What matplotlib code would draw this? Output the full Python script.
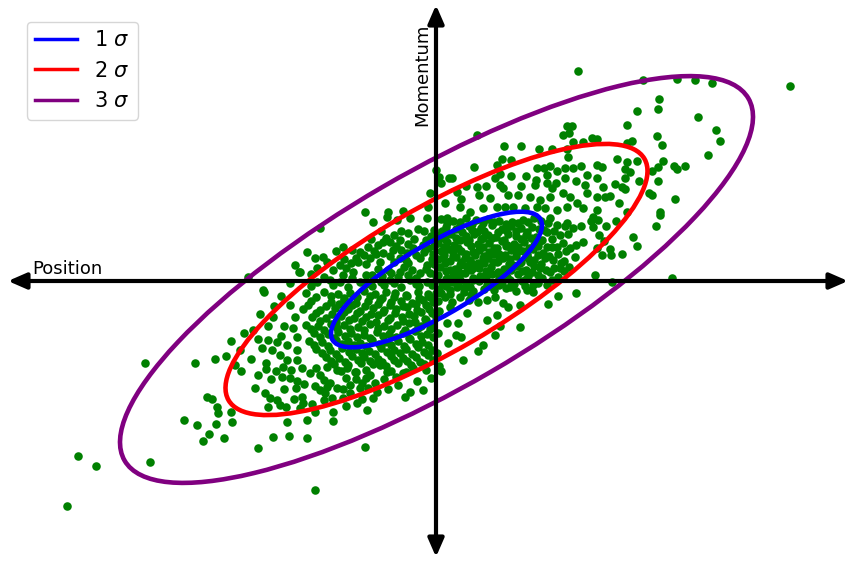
import numpy as np
import matplotlib
matplotlib.use("Agg")
import matplotlib.pyplot as plt
from matplotlib.patches import Ellipse
from matplotlib.lines import Line2D

# ---- samples (position, momentum) ----
upper_pts = [
    (1.42, 2.10), (3.54, 1.95), (2.07, 2.01), (2.41, 2.02), (2.59, 2.01), (2.76, 1.98),
    (2.23, 1.82), (2.22, 1.72), (2.01, 1.70), (2.62, 1.64), (1.91, 1.56), (2.80, 1.51),
    (2.84, 1.40), (1.96, 1.40), (1.91, 1.38), (2.21, 1.45), (2.26, 1.36), (2.72, 1.26),
    (1.81, 1.22), (1.91, 1.19), (2.01, 1.20), (2.27, 1.20), (2.22, 1.14), (2.38, 1.15),
    (2.41, 1.12), (2.49, 1.15), (2.16, 1.10), (1.89, 1.12), (1.94, 1.09), (1.89, 1.03),
    (2.03, 1.00), (2.22, 1.00), (1.79, 0.97), (1.86, 0.94), (1.89, 0.92), (1.74, 0.85),
    (2.13, 0.88), (2.16, 0.86), (2.39, 0.82), (1.83, 0.78), (2.24, 0.69), (1.91, 0.69),
    (0.41, 1.46), (1.31, 1.55), (1.36, 1.55), (1.27, 1.46), (1.33, 1.48), (1.37, 1.39),
    (1.47, 1.39), (1.56, 1.43), (1.61, 1.42), (0.68, 1.35), (0.85, 1.35), (1.03, 1.32),
    (1.16, 1.32), (1.31, 1.32), (1.32, 1.24), (0.66, 1.22), (0.75, 1.21), (0.61, 1.16),
    (0.38, 1.14), (1.01, 1.13), (1.08, 1.13), (1.14, 1.15), (1.21, 1.10), (1.29, 1.13),
    (1.37, 1.13), (1.45, 1.15), (1.61, 1.16), (1.66, 1.14), (1.51, 1.06), (1.61, 1.03),
    (0.64, 1.07), (0.75, 1.05), (0.16, 1.03), (1.00, 1.01), (1.11, 1.06), (1.29, 1.03),
    (0.41, 0.94), (0.59, 1.03), (0.64, 0.96), (0.67, 0.93), (0.99, 0.96), (1.11, 0.98),
    (1.16, 0.93), (1.49, 0.96), (1.67, 0.94), (0.43, 0.86), (0.54, 0.83), (0.72, 0.86),
    (0.82, 0.86), (0.94, 0.84), (1.04, 0.81), (1.14, 0.84), (1.27, 0.88), (1.34, 0.84),
    (1.41, 0.78), (1.51, 0.88), (1.61, 0.84), (1.69, 0.84), (0.21, 0.89), (0.24, 0.74),
    (0.34, 0.69), (0.47, 0.73), (0.61, 0.74), (0.69, 0.74), (0.77, 0.74), (0.89, 0.73),
    (1.01, 0.74), (1.09, 0.73), (1.21, 0.71), (1.31, 0.74), (1.47, 0.73), (1.61, 0.71),
    (0.00, 1.11), (0.03, 1.04), (0.05, 0.98), (0.13, 1.03), (-0.06, 0.88), (0.09, 0.78),
    (-0.08, 0.74), (-0.71, 0.69), (-0.48, 0.69), (-0.33, 0.70), (-1.16, 0.53),
    (0.25, 0.82), (0.30, 0.95), (0.50, 0.95), (0.85, 0.95), (0.90, 1.05), (1.20, 0.98),
    (1.40, 1.00), (1.55, 0.60), (1.45, 0.55), (1.70, 0.55), (1.80, 0.60), (1.68, 0.40),
]

mid_pts = [
    (-0.63, 0.59), (-0.49, 0.64), (-0.39, 0.61), (-0.26, 0.63), (-0.09, 0.63), (-0.18, 0.52),
    (-0.28, 0.48), (-0.36, 0.41), (-0.46, 0.39), (-0.53, 0.39), (-0.68, 0.34), (-0.76, 0.29),
    (-0.93, 0.34), (-1.29, 0.29), (-1.21, 0.23), (-1.13, 0.24), (-1.09, 0.19), (-1.19, 0.13),
    (-1.03, 0.11), (-0.96, 0.16), (-0.93, 0.06), (-0.83, 0.09), (-0.78, 0.19), (-0.66, 0.23),
    (-0.64, 0.06), (-0.56, 0.19), (-0.53, 0.28), (-0.43, 0.31), (-0.36, 0.23), (-0.29, 0.28),
    (-0.23, 0.33), (-0.16, 0.23), (-0.08, 0.33), (-0.09, 0.16), (-0.48, 0.11), (-0.36, 0.09),
    (-0.24, 0.11), (-0.16, 0.08), (-0.06, 0.08), (-1.36, 0.09), (-1.06, 0.01), (-1.19, -0.01),
    (-0.96, -0.01), (-0.76, -0.01), (-0.46, 0.01), (-0.26, 0.01), (-0.09, -0.01),
    (-1.41, 0.16), (-1.37, 0.09), (-1.88, 0.04), (-1.73, -0.09),
    (0.11, 0.63), (0.24, 0.56), (0.76, 0.59), (0.87, 0.61), (1.14, 0.63), (1.21, 0.56),
    (1.31, 0.58), (1.37, 0.53), (1.11, 0.49), (1.24, 0.46), (1.11, 0.34), (1.21, 0.34),
    (1.34, 0.33), (1.39, 0.24), (1.17, 0.21), (0.92, 0.23), (0.81, 0.29), (0.71, 0.36),
    (0.61, 0.33), (0.47, 0.43), (0.41, 0.49), (0.24, 0.41), (0.11, 0.39), (0.07, 0.23),
    (0.17, 0.29), (0.29, 0.23), (0.37, 0.29), (0.47, 0.23), (0.57, 0.19), (0.67, 0.23),
    (0.77, 0.16), (0.37, 0.13), (0.24, 0.16), (0.14, 0.11), (0.11, 0.03), (0.24, 0.01),
    (0.37, 0.03), (0.51, 0.08), (0.64, 0.06), (1.04, 0.13), (1.14, 0.09), (1.24, 0.13),
    (0.97, -0.04), (1.11, -0.04), (0.51, -0.04), (0.21, -0.06),
    (1.57, 0.64), (1.62, 0.61), (1.57, 0.54), (1.63, 0.46), (1.47, 0.39), (1.97, 0.44),
    (2.01, 0.35), (2.20, 0.55), (2.24, 0.66), (1.61, 0.33), (1.66, 0.26), (1.74, 0.32),
    (1.75, 0.26), (1.86, 0.27), (1.59, 0.06), (1.76, -0.01), (2.36, 0.03),
    (-0.55, 0.50), (-0.35, 0.50), (-0.12, 0.50), (-0.02, 0.51),
    (-0.65, 0.42), (-0.50, 0.43), (-0.22, 0.42), (-0.10, 0.41),
    (-1.00, 0.30), (-0.84, 0.31), (-0.62, 0.30), (-0.35, 0.31), (-0.12, 0.29),
    (-0.92, 0.22), (-0.80, 0.23), (-0.30, 0.21), (-0.04, 0.22),
    (-0.90, 0.13), (-0.58, 0.12), (-0.32, 0.14), (-0.10, 0.12),
    (-1.25, 0.07), (-0.70, 0.06), (-0.45, 0.08), (-0.28, 0.06),
    (-1.46, -0.02), (-0.70, -0.03), (-0.55, -0.01), (-0.42, -0.02), (-0.20, -0.03),
]

core_pts = [
    (0.05, 0.62), (0.17, 0.60), (0.30, 0.63), (0.40, 0.61), (0.52, 0.62), (0.63, 0.60),
    (0.98, 0.63), (1.05, 0.60),
    (0.10, 0.54), (0.20, 0.52), (0.33, 0.55), (0.45, 0.53), (0.56, 0.56), (0.66, 0.52),
    (0.75, 0.55), (0.85, 0.53), (0.96, 0.54), (1.03, 0.52), (1.29, 0.55),
    (0.04, 0.46), (0.15, 0.47), (0.30, 0.45), (0.38, 0.47), (0.52, 0.46), (0.60, 0.44),
    (0.72, 0.47), (0.80, 0.45), (0.90, 0.46), (1.00, 0.44), (1.32, 0.47),
    (0.02, 0.38), (0.18, 0.36), (0.31, 0.39), (0.42, 0.37), (0.53, 0.38), (0.66, 0.40),
    (0.78, 0.37), (0.88, 0.39), (0.98, 0.36), (1.04, 0.40), (1.27, 0.38), (1.40, 0.36),
    (0.05, 0.30), (0.12, 0.32), (0.25, 0.30), (0.43, 0.31), (0.53, 0.29), (0.63, 0.27),
    (0.75, 0.31), (0.87, 0.30), (0.97, 0.32), (1.07, 0.28), (1.30, 0.30),
    (0.02, 0.22), (0.14, 0.20), (0.20, 0.24), (0.34, 0.21), (0.42, 0.18), (0.52, 0.23),
    (0.62, 0.20), (0.74, 0.22), (0.85, 0.19), (0.98, 0.21), (1.09, 0.23), (1.28, 0.20),
    (0.04, 0.14), (0.19, 0.12), (0.30, 0.15), (0.43, 0.13), (0.55, 0.14), (0.68, 0.12),
    (0.80, 0.15), (0.90, 0.11), (0.98, 0.15), (1.18, 0.13), (1.33, 0.14),
    (0.02, 0.06), (0.17, 0.05), (0.29, 0.08), (0.44, 0.05), (0.56, 0.07), (0.71, 0.04),
    (0.82, 0.07), (0.92, 0.05), (1.02, 0.06), (1.22, 0.04),
    (0.06, -0.02), (0.16, -0.01), (0.30, -0.03), (0.43, 0.00), (0.57, -0.02), (0.66, -0.01),
    (0.78, -0.03), (0.86, 0.00), (1.02, -0.02),
    (0.03, -0.08), (0.14, -0.09), (0.28, -0.07), (0.37, -0.10), (0.48, -0.08), (0.58, -0.09),
    (0.70, -0.07), (0.80, -0.10),
    (0.05, -0.12), (0.14, -0.13), (0.28, -0.11), (0.35, -0.14), (0.02, -0.20), (0.16, -0.21),
    (0.33, -0.19),
    (0.11, 0.58), (0.24, 0.59), (0.36, 0.57), (0.47, 0.58), (0.58, 0.59), (0.70, 0.57),
    (0.82, 0.58), (0.92, 0.59), (1.12, 0.58),
    (0.06, 0.50), (0.26, 0.49), (0.36, 0.51), (0.48, 0.50), (0.62, 0.49), (0.70, 0.51),
    (0.80, 0.50), (0.91, 0.49), (1.08, 0.51), (1.18, 0.50),
    (0.09, 0.42), (0.20, 0.43), (0.33, 0.41), (0.45, 0.42), (0.56, 0.43), (0.68, 0.41),
    (0.85, 0.42), (0.95, 0.43), (1.06, 0.41), (1.16, 0.42),
    (0.08, 0.34), (0.22, 0.33), (0.35, 0.35), (0.47, 0.34), (0.58, 0.33), (0.70, 0.35),
    (0.82, 0.34), (0.93, 0.33), (1.02, 0.35), (1.16, 0.34),
    (0.08, 0.26), (0.17, 0.25), (0.30, 0.27), (0.39, 0.26), (0.48, 0.25), (0.58, 0.27),
    (0.69, 0.26), (0.80, 0.25), (0.91, 0.27), (1.02, 0.26), (1.13, 0.25), (1.22, 0.27),
    (0.09, 0.18), (0.25, 0.19), (0.37, 0.17), (0.48, 0.18), (0.61, 0.19), (0.73, 0.17),
    (0.84, 0.18), (0.94, 0.19), (1.05, 0.17), (1.25, 0.18),
    (0.10, 0.10), (0.23, 0.09), (0.35, 0.11), (0.50, 0.10), (0.62, 0.09), (0.75, 0.11),
    (0.86, 0.10), (0.96, 0.09), (1.10, 0.11), (1.28, 0.10),
    (0.10, 0.02), (0.23, 0.03), (0.37, 0.01), (0.50, 0.02), (0.63, 0.03), (0.74, 0.01),
    (0.90, 0.02), (1.06, 0.03), (1.16, 0.01),
    (0.10, -0.05), (0.22, -0.04), (0.34, -0.06), (0.53, -0.05), (0.63, -0.04), (0.74, -0.06),
    (0.89, -0.05),
    (-0.05, 0.45), (0.02, 0.43), (-0.42, 0.46),
    (-0.58, 0.36), (-0.40, 0.35), (-0.28, 0.37), (-0.13, 0.36), (-0.02, 0.35),
    (-0.72, 0.26), (-0.60, 0.27), (-0.46, 0.25), (-0.20, 0.26), (-0.03, 0.27),
    (-0.85, 0.18), (-0.70, 0.17), (-0.42, 0.19), (-0.28, 0.18), (-0.02, 0.17),
    (-1.12, 0.04), (-0.84, 0.03), (-0.54, 0.05), (-0.38, 0.04), (-0.20, 0.03), (0.00, 0.05),
    (-1.25, -0.05), (-1.03, -0.04), (-0.88, -0.06), (-0.64, -0.05), (-0.52, -0.04),
    (-0.35, -0.06), (-0.17, -0.05), (-0.04, -0.04),
    (-1.30, -0.12), (-1.12, -0.11), (-0.98, -0.13), (-0.86, -0.12), (-0.72, -0.10),
    (-0.61, -0.13), (-0.50, -0.11), (-0.41, -0.12), (-0.30, -0.14), (-0.18, -0.11),
    (-0.08, -0.13), (0.00, -0.12),
    (-1.25, -0.20), (-1.05, -0.21), (-0.92, -0.19), (-0.80, -0.22), (-0.68, -0.20),
    (-0.56, -0.19), (-0.45, -0.21), (-0.35, -0.20), (-0.24, -0.22), (-0.13, -0.19),
    (-0.03, -0.21),
    (-1.33, -0.28), (-1.16, -0.29), (-1.01, -0.27), (-0.88, -0.28), (-0.76, -0.30),
    (-0.63, -0.27), (-0.52, -0.29), (-0.40, -0.28), (-0.29, -0.26), (-0.19, -0.29),
    (-0.07, -0.28), (0.03, -0.30),
    (-1.24, -0.36), (-1.10, -0.37), (-0.95, -0.35), (-0.82, -0.37), (-0.70, -0.36),
    (-0.58, -0.34), (-0.46, -0.37), (-0.34, -0.36), (-0.22, -0.35), (-0.11, -0.38),
    (0.00, -0.36),
    (-1.30, -0.44), (-1.18, -0.45), (-1.05, -0.43), (-0.92, -0.44), (-0.78, -0.46),
    (-0.66, -0.43), (-0.52, -0.45), (-0.39, -0.44), (-0.27, -0.42), (-0.15, -0.45),
    (-0.05, -0.44),
    (-1.22, -0.52), (-1.08, -0.53), (-0.98, -0.51), (-0.85, -0.52), (-0.72, -0.54),
    (-0.59, -0.51), (-0.47, -0.53), (-0.33, -0.52), (-0.21, -0.50), (-0.09, -0.53),
    (0.02, -0.52),
    (-1.27, -0.60), (-1.14, -0.61), (-1.00, -0.59), (-0.88, -0.60), (-0.76, -0.62),
    (-0.64, -0.59), (-0.51, -0.61), (-0.38, -0.60), (-0.26, -0.58), (-0.14, -0.61),
    (-1.20, -0.68), (-1.06, -0.69), (-0.94, -0.67), (-0.80, -0.68), (-0.67, -0.70),
    (-0.55, -0.67), (-0.42, -0.69), (-0.30, -0.68), (-0.18, -0.66), (-0.04, -0.69),
    (-1.10, -0.76), (-0.97, -0.77), (-0.84, -0.75), (-0.72, -0.76), (-0.58, -0.78),
    (-0.45, -0.75), (-0.33, -0.77), (-0.20, -0.76), (-0.08, -0.74),
    (-1.02, -0.83), (-0.88, -0.84), (-0.75, -0.82), (-0.63, -0.83), (-0.50, -0.85),
    (-0.38, -0.82), (-0.25, -0.84), (-0.12, -0.83), (0.03, -0.85),
    (-1.20, -0.16), (-1.05, -0.15), (-0.92, -0.17), (-0.79, -0.16), (-0.66, -0.15),
    (-0.54, -0.17), (-0.42, -0.16), (-0.29, -0.15), (-0.17, -0.17), (-0.06, -0.16),
    (-1.28, -0.24), (-1.10, -0.25), (-0.97, -0.23), (-0.84, -0.24), (-0.71, -0.25),
    (-0.58, -0.23), (-0.46, -0.24), (-0.33, -0.25), (-0.20, -0.23), (-0.10, -0.24),
    (-1.20, -0.32), (-1.04, -0.33), (-0.92, -0.31), (-0.79, -0.32), (-0.65, -0.33),
    (-0.53, -0.31), (-0.41, -0.32), (-0.27, -0.33), (-0.15, -0.31), (-0.04, -0.32),
    (-1.16, -0.40), (-1.00, -0.41), (-0.87, -0.39), (-0.74, -0.40), (-0.60, -0.41),
    (-0.48, -0.39), (-0.33, -0.40), (-0.21, -0.41), (-0.10, -0.39),
    (-1.25, -0.48), (-1.12, -0.49), (-0.99, -0.47), (-0.86, -0.48), (-0.72, -0.49),
    (-0.58, -0.47), (-0.45, -0.48), (-0.31, -0.49), (-0.18, -0.47), (-0.06, -0.48),
    (-1.16, -0.56), (-1.02, -0.57), (-0.91, -0.55), (-0.79, -0.56), (-0.66, -0.57),
    (-0.53, -0.55), (-0.40, -0.56), (-0.27, -0.57), (-0.15, -0.55), (-0.03, -0.56),
    (-1.22, -0.64), (-1.08, -0.65), (-0.94, -0.63), (-0.82, -0.64), (-0.70, -0.65),
    (-0.57, -0.63), (-0.45, -0.64), (-0.32, -0.65), (-0.20, -0.63), (-0.08, -0.64),
    (-1.14, -0.72), (-1.00, -0.73), (-0.87, -0.71), (-0.74, -0.72), (-0.61, -0.73),
    (-0.49, -0.71), (-0.36, -0.72), (-0.24, -0.73), (-0.12, -0.71), (0.01, -0.72),
    (-1.05, -0.80), (-0.91, -0.81), (-0.78, -0.79), (-0.66, -0.80), (-0.54, -0.81),
    (-0.42, -0.79), (-0.29, -0.80), (-0.16, -0.81), (-0.03, -0.79),
    (-0.95, -0.90), (-0.80, -0.91), (-0.70, -0.89), (-0.45, -0.90), (-0.30, -0.91),
    (-0.10, -0.89), (0.05, -0.90),
    (-0.90, -0.97), (-0.52, -0.98), (-0.40, -0.96), (-0.05, -0.97),
]

lower_pts = [
    (0.09, -0.16), (0.24, -0.16), (0.14, -0.26), (0.31, -0.32), (0.22, -0.42), (0.11, -0.42),
    (0.12, -0.62), (0.20, -0.54), (0.25, -0.56), (0.42, -0.21), (0.51, -0.19), (0.59, -0.16),
    (0.67, -0.22), (0.72, -0.26), (0.84, -0.24), (0.61, -0.34), (0.64, -0.45), (0.59, -0.54),
    (0.84, -0.46), (0.51, -0.39), (0.47, -0.64), (0.42, -0.70), (0.27, -0.79), (1.12, -0.23),
    (1.22, -0.15), (1.40, -0.12), (0.91, -0.09), (0.97, -0.11),
    (-2.91, -0.82), (-2.41, -0.82), (-2.21, -0.78), (-2.10, -0.75), (-1.72, -0.11),
    (-1.76, -0.33), (-1.83, -0.49), (-1.63, -0.36), (-1.46, -0.24), (-1.41, -0.36),
    (-1.43, -0.47), (-1.68, -0.59), (-1.59, -0.61), (-1.74, -0.67), (-1.64, -0.69),
    (-1.49, -0.64), (-1.39, -0.56), (-1.56, -0.74), (-1.49, -0.79), (-1.39, -0.69),
    (-1.39, -0.79), (-1.96, -0.69),
    (-1.55, -0.15), (-1.62, -0.25), (-1.52, -0.45), (-1.68, -0.45), (-1.78, -0.58),
    (-1.92, -0.52), (-1.55, -0.55), (-1.85, -0.78), (-1.70, -0.82), (-1.60, -0.90),
    (-1.95, -0.90), (-2.05, -0.60),
    (-2.29, -1.16), (-2.24, -1.18), (-2.19, -1.26), (-2.18, -1.32), (-2.05, -1.31),
    (-2.52, -1.39), (-2.39, -1.44), (-2.20, -1.43), (-2.04, -1.41), (-2.27, -1.53),
    (-2.33, -1.60), (-2.12, -1.57), (-3.58, -1.75), (-3.40, -1.85), (-2.86, -1.81),
    (-3.69, -2.25), (-2.01, -0.84),
    (-1.21, -2.09), (-0.71, -1.66), (-1.78, -1.67), (-1.63, -1.56), (-1.47, -1.55),
    (-1.29, -1.57), (-1.49, -1.41), (-1.29, -1.39), (-1.03, -1.40), (-1.03, -1.31),
    (-1.21, -1.31), (-0.69, -1.29), (-0.79, -1.22), (-1.81, -1.07), (-1.78, -0.94),
    (-1.71, -1.12), (-1.66, -1.17), (-1.59, -1.19), (-1.68, -1.26), (-1.56, -1.24),
    (-1.34, -1.16), (-1.33, -1.22), (-1.24, -1.23), (-1.39, -1.00), (-1.32, -1.03),
    (-1.21, -1.05), (-1.26, -0.92), (-1.16, -0.94), (-1.09, -1.06), (-1.11, -1.12),
    (-1.04, -1.17), (-0.99, -1.07), (-1.06, -1.02), (-0.86, -1.04), (-0.86, -1.12),
    (-0.74, -1.02), (-0.68, -1.07), (-0.66, -0.94), (-0.61, -1.02), (-0.63, -1.17),
    (-0.59, -1.11), (-0.81, -0.91), (-0.99, -0.89), (-0.89, -0.87), (-1.54, -0.96),
    (-1.53, -0.86), (-1.34, -0.87), (-1.09, -0.86), (-0.49, -0.91), (-0.56, -0.84),
    (-0.38, -1.04), (-0.31, -1.16), (-0.26, -1.11), (-0.19, -1.00), (-0.13, -1.09),
    (-0.33, -0.92), (-0.23, -0.87),
    (-1.70, -0.88), (-1.45, -0.89), (-1.20, -0.87),
    (-1.65, -0.98), (-1.46, -0.97), (-1.12, -0.99), (-0.80, -0.98), (-0.70, -0.97),
    (-1.52, -1.08), (-1.40, -1.07), (-1.16, -1.09), (-0.93, -1.08), (-0.76, -1.07),
    (-0.48, -1.08),
    (-1.42, -1.18), (-1.12, -1.19), (-0.93, -1.17), (-0.74, -1.18),
    (-1.50, -1.26), (-1.36, -1.27), (-0.90, -1.25),
]

# ---- confidence ellipses ----
sigma_levels = [1, 2, 3]
sigma_labels = ['1 $\\sigma$', '2 $\\sigma$', '3 $\\sigma$']
sigma_colors = ['blue', 'red', 'purple']
sigma_x, sigma_y, rho = 1.055, 0.678, 0.80
mean_xy = (0.005, 0.015)

x_label = 'Position'
y_label = 'Momentum'

fig = plt.figure(figsize=(8.51, 5.65), dpi=100)
ax = fig.add_axes([0, 0, 1, 1])
ax.set_xlim(-4.36, 4.15)
ax.set_ylim(-2.84, 2.81)
ax.set_axis_off()

pts = np.array(upper_pts + mid_pts + core_pts + lower_pts)
ax.scatter(pts[:, 0], pts[:, 1], s=38, color='green', linewidths=0, zorder=2)

cov = np.array([[sigma_x ** 2, rho * sigma_x * sigma_y],
                [rho * sigma_x * sigma_y, sigma_y ** 2]])
vals, vecs = np.linalg.eigh(cov)
angle = np.degrees(np.arctan2(vecs[1, 1], vecs[0, 1]))
handles = []
for k, lab, c in zip(sigma_levels, sigma_labels, sigma_colors):
    e = Ellipse(mean_xy, 2 * k * np.sqrt(vals[1]), 2 * k * np.sqrt(vals[0]),
                angle=angle, fill=False, edgecolor=c, lw=3.3, zorder=3)
    ax.add_patch(e)
    handles.append(Line2D([], [], color=c, lw=2.5, label=lab))

arrow_style = '<|-|>,head_length=0.55,head_width=0.24'
ax.annotate('', xy=(4.12, 0), xytext=(-4.28, 0),
            arrowprops=dict(arrowstyle=arrow_style, color='black', lw=3,
                            mutation_scale=20, shrinkA=0, shrinkB=0), zorder=4)
ax.annotate('', xy=(0, 2.76), xytext=(0, -2.76),
            arrowprops=dict(arrowstyle=arrow_style, color='black', lw=3,
                            mutation_scale=20, shrinkA=0, shrinkB=0), zorder=4)

ax.text(-4.04, 0.07, x_label, fontsize=13, ha='left', va='baseline', zorder=5)
ax.text(-0.135, 2.06, y_label, fontsize=13, rotation=90, ha='center', va='center', zorder=5)

ax.legend(handles=handles, loc='upper left', bbox_to_anchor=(27 / 851, 1 - 22 / 565),
          borderaxespad=0, fontsize=15)

fig.savefig('out.png', dpi=100)
